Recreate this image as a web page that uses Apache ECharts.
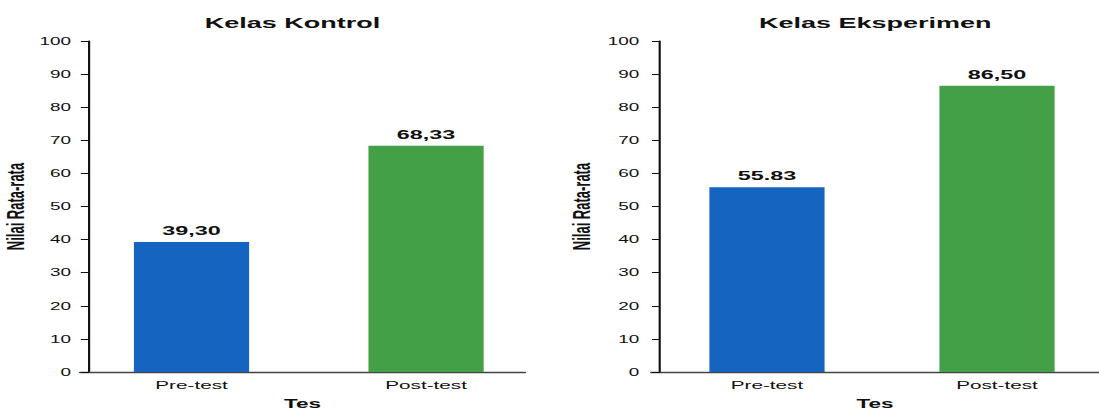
<!DOCTYPE html>
<html>
<head>
<meta charset="utf-8">
<script src="https://cdn.jsdelivr.net/npm/echarts@6/dist/echarts.min.js"></script>
<style>
  html, body { margin: 0; padding: 0; background: #fff; overflow: hidden; }
  #wrap { width: 1099px; height: 410px; overflow: hidden; }
  #chart { width: 610.56px; height: 410px; transform: scaleX(1.8); transform-origin: 0 0; }
</style>
</head>
<body>
<div id="wrap"><div id="chart"></div></div>
<script>
// ---- data ----
const categories = ['Pre-test', 'Post-test'];
const kontrolValues = [39.30, 68.33];
const kontrolLabels = ['39,30', '68,33'];
const eksperimenValues = [55.83, 86.50];
const eksperimenLabels = ['55.83', '86,50'];
const yTicks = { min: 0, max: 100, interval: 10 };
const titles = ['Kelas Kontrol', 'Kelas Eksperimen'];
const xName = 'Tes';
const yName = 'Nilai Rata-rata';
const barColors = ['#1565C0', '#43A047'];

const chart = echarts.init(document.getElementById('chart'), null, { renderer: 'svg' });
const FONT = 'Liberation Sans, Arial, sans-serif';
const TOP = 41, BOTTOM = 38;

function barSeries(values, labels, xi) {
  return {
    type: 'bar', xAxisIndex: xi, yAxisIndex: xi, barWidth: 64,
    data: values.map((v, i) => ({ value: v, itemStyle: { color: barColors[i] } })),
    label: {
      show: true, position: 'top', distance: 5,
      formatter: p => labels[p.dataIndex],
      fontFamily: FONT, fontWeight: 'bold', fontSize: 13, color: '#111'
    },
    emphasis: { disabled: true }
  };
}

const visX = (gi) => ({
  gridIndex: gi, type: 'value', min: 0, max: 1,
  axisLine: { show: true, lineStyle: { color: '#444', width: 1.3 } },
  axisTick: { show: false }, axisLabel: { show: false }, splitLine: { show: false },
  name: xName, nameLocation: 'middle', nameGap: 25,
  nameTextStyle: { fontFamily: FONT, fontWeight: 'bold', fontSize: 12.5, color: '#111' }
});
const visY = (gi, margin, nameGap) => ({
  gridIndex: gi, type: 'value', min: yTicks.min, max: yTicks.max, interval: yTicks.interval,
  offset: -5,
  axisLine: { show: true, lineStyle: { color: '#111', width: 1.2 } },
  axisTick: { show: true, length: 4.5, lineStyle: { color: '#111', width: 1 } },
  axisLabel: { margin: margin, fontFamily: FONT, fontSize: 10.5, color: '#111' },
  splitLine: { show: false },
  name: yName, nameLocation: 'middle', nameGap: nameGap,
  nameTextStyle: { fontFamily: FONT, fontWeight: 'bold', fontSize: 13, color: '#111' }
});
const hidX = (gi) => ({
  gridIndex: gi, type: 'category', data: categories,
  axisLine: { show: false }, axisTick: { show: false }, splitLine: { show: false },
  axisLabel: { margin: 7, fontFamily: FONT, fontSize: 11.5, color: '#111' }
});
const hidY = (gi) => ({
  gridIndex: gi, type: 'value', min: yTicks.min, max: yTicks.max, interval: yTicks.interval,
  show: false
});
const grid = (left, width) => ({
  left: left, width: width, top: TOP, bottom: BOTTOM,
  containLabel: false, outerBoundsMode: 'none'
});

chart.setOption({
  animation: false,
  title: [
    { text: titles[0], left: 157.5, top: 10, textAlign: 'center',
      textStyle: { fontFamily: FONT, fontWeight: 'bold', fontSize: 15, color: '#111' } },
    { text: titles[1], left: 481.3, top: 10, textAlign: 'center',
      textStyle: { fontFamily: FONT, fontWeight: 'bold', fontSize: 15, color: '#111' } }
  ],
  grid: [
    grid(41.25, 260.6),
    grid(44.4, 247.3),
    grid(362.2, 255.6),
    grid(361.7, 248.9)
  ],
  xAxis: [hidX(0), visX(1), hidX(2), visX(3)],
  yAxis: [hidY(0), visY(1, 10, 34), hidY(2), visY(3, 11.5, 37)],
  series: [
    barSeries(kontrolValues, kontrolLabels, 0),
    barSeries(eksperimenValues, eksperimenLabels, 2)
  ]
});
</script>
</body>
</html>
